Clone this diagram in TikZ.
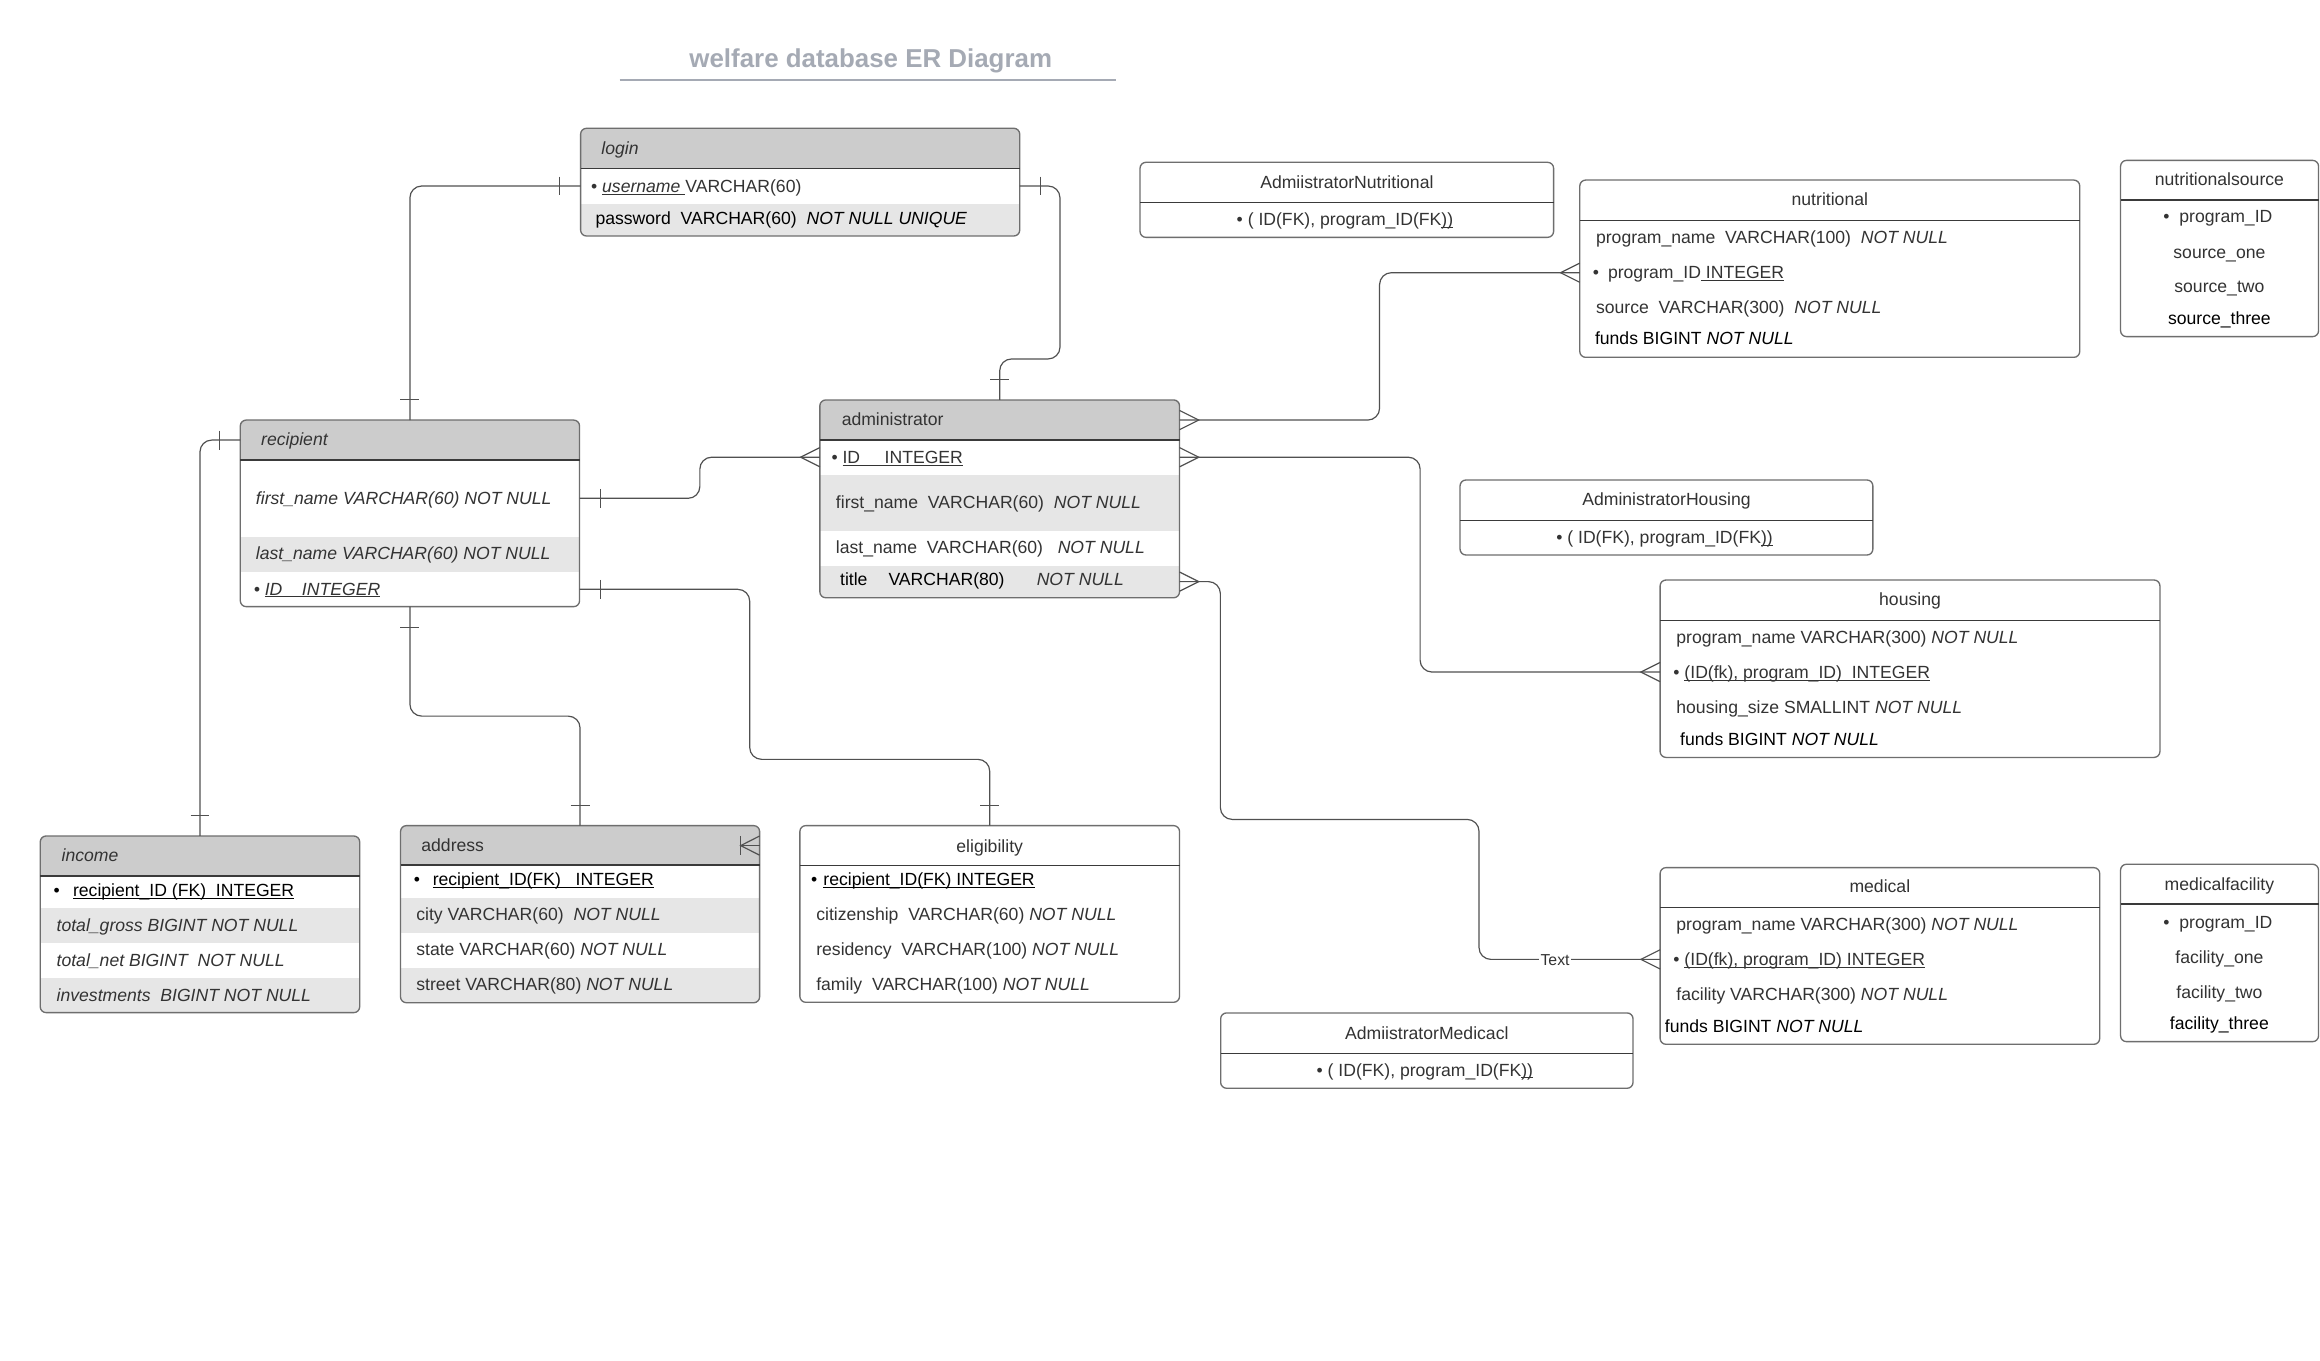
\documentclass[tikz,border=0pt]{standalone}
\usepackage{fontspec}
\setmainfont{Liberation Sans}
\newsavebox\ulbox
\newcommand\ul[1]{\sbox\ulbox{#1}\rlap{\rule[-1.6pt]{\wd\ulbox}{0.7pt}}\usebox\ulbox}
\definecolor{hdr}{HTML}{CCCCCC}
\definecolor{band}{HTML}{E6E6E6}
\definecolor{bord}{HTML}{6E6E6E}
\definecolor{divc}{HTML}{3A3A3A}
\definecolor{txtc}{HTML}{333333}
\definecolor{connc}{HTML}{505050}
\definecolor{ttlc}{HTML}{A5AAB4}
\newcommand\fs{\fontsize{11.9}{14}\selectfont}
\newcommand\erbox[5]{\node[frame, minimum width={#4-#2}, minimum height={#5-#3}] (#1) at ({(#2+#4)/2},{(#3+#5)/2}) {};}
\newcommand\erfill[2]{\begin{scope}\clip[rounded corners=4pt] (#1.north west) rectangle (#1.south east); #2 \end{scope}}
\newcommand\erline[1]{\draw[border] (#1.north west) rectangle (#1.south east);}
\newcommand\vtick[2]{\draw[ticks] (#1,#2-6.4) -- (#1,#2+6.4);}
\newcommand\htick[2]{\draw[ticks] (#1-6.4,#2) -- (#1+6.4,#2);}
\newcommand\crowL[2]{\draw[ticks] (#1,#2-6.5) -- (#1-13,#2) -- (#1,#2+6.5);}
\newcommand\crowR[2]{\draw[ticks] (#1,#2-6.5) -- (#1+13,#2) -- (#1,#2+6.5);}
\tikzset{
  frame/.style={rectangle, draw=none, inner sep=0pt, outer sep=0pt},
  border/.style={draw=bord, line width=0.9pt, rounded corners=4pt},
  divider/.style={draw=divc, line width=0.8pt},
  conn/.style={draw=connc, line width=0.8pt, rounded corners=8pt},
  ticks/.style={draw=connc, line width=0.8pt},
  txt/.style={anchor=west, inner sep=0pt, outer sep=0pt, text height=8.6pt, text depth=0pt, font=\fs, text=txtc},
  ctxt/.style={txt, anchor=center},
  blk/.style={text=black},
  lbl/.style={fill=white, inner sep=1pt, font=\fontsize{10.7}{12}\selectfont, text=txtc, text height=7.7pt, text depth=0pt},
}
\begin{document}
\begin{tikzpicture}[x=1pt,y=-1pt]
\useasboundingbox (0,0) rectangle (1568,919.2);
\fill[white] (0,0) rectangle (1568,919.2);

% title
\node[ctxt, font=\bfseries\fontsize{17.5}{20}\selectfont, text=ttlc, text height=12.6pt] (title) at (588.5,39) {welfare database ER Diagram};
\coordinate (ttlA) at (418.8,54); \coordinate (ttlB) at (754.5,54);
\draw[ttlc, line width=1.2pt] (ttlA) -- (ttlB);

% login
\erbox{login}{392.4}{86.7}{689.2}{159.5}
\erfill{login}{\fill[hdr] (392.4,86.7) rectangle (689.2,113.8); \fill[band] (392.4,137.9) rectangle (689.2,159.5);}
\erline{login}
\draw[divider] (392.4,113.8) -- (689.2,113.8);
\node[txt] (lg1) at (406.5,99.8) {\itshape login};
\node[txt] (lg2) at (399.5,125.7) {• \ul{\itshape username\ }VARCHAR(60)};
\node[txt,blk] (lg3) at (402.5,147.6) {password~ VARCHAR(60)~ \itshape NOT NULL UNIQUE};

% recipient
\erbox{rcp}{162.4}{283.9}{391.7}{410}
\erfill{rcp}{\fill[hdr] (162.4,283.9) rectangle (391.7,310.9); \fill[band] (162.4,362.7) rectangle (391.7,386.4);}
\erline{rcp}
\draw[divider] (162.4,310.9) -- (391.7,310.9);
\node[txt] (rc1) at (176.5,296.8) {\itshape recipient};
\node[txt] (rc2) at (173,336.4) {\itshape first\_name VARCHAR(60) NOT NULL};
\node[txt] (rc3) at (173,373.8) {\itshape last\_name VARCHAR(60) NOT NULL};
\node[txt] (rc4) at (171.5,397.9) {\itshape • \ul{ID~~~ INTEGER}};

% administrator
\erbox{adm}{554.1}{270.3}{797.2}{404}
\erfill{adm}{\fill[hdr] (554.1,270.3) rectangle (797.2,297.4); \fill[band] (554.1,321) rectangle (797.2,358.7); \fill[band] (554.1,382.5) rectangle (797.2,404);}
\erline{adm}
\draw[divider] (554.1,297.4) -- (797.2,297.4);
\node[txt] (ad1) at (568.9,283.4) {administrator};
\node[txt] (ad2) at (562,309) {• \ul{ID~~~~ INTEGER}};
\node[txt] (ad3) at (565,339.5) {first\_name~ VARCHAR(60)~ \itshape NOT NULL};
\node[txt] (ad4) at (565,369.9) {last\_name~ VARCHAR(60)~~ \itshape NOT NULL};
\node[txt,blk] (ad5) at (567.8,391.5) {title};
\node[txt,blk] (ad6) at (600.5,391.5) {VARCHAR(80)};
\node[txt] (ad7) at (700.7,391.5) {\itshape NOT NULL};

% AdmiistratorNutritional
\erbox{an}{770.5}{109.7}{1050}{160.4}
\erline{an}
\draw[divider] (770.5,136.8) -- (1050,136.8);
\node[ctxt] (an1) at (910.3,122.8) {AdmiistratorNutritional};
\node[ctxt] (an2) at (909,148.2) {• ( ID(FK), program\_ID(FK\ul{))}};

% nutritional
\erbox{nut}{1067.7}{121.7}{1405.6}{241.5}
\erline{nut}
\draw[divider] (1067.7,149.1) -- (1405.6,149.1);
\node[ctxt] (nu1) at (1236.7,134.7) {nutritional};
\node[txt] (nu2) at (1078.7,160) {program\_name~ VARCHAR(100)~ \itshape NOT NULL};
\node[txt] (nu3) at (1076.6,184) {•};
\node[txt] (nu4) at (1086.8,184) {program\_ID\ul{\ INTEGER}};
\node[txt] (nu5) at (1078.7,207.3) {source~ VARCHAR(300)~ \itshape NOT NULL};
\node[txt,blk] (nu6) at (1078,228.7) {funds BIGINT \itshape NOT NULL};

% nutritionalsource
\erbox{ns}{1433.2}{108.4}{1567}{227.5}
\erline{ns}
\draw[divider] (1433.2,135.2) -- (1567,135.2);
\node[ctxt] (ns1) at (1500,121.2) {nutritionalsource};
\node[ctxt] (ns2) at (1499,146.4) {•~ program\_ID};
\node[ctxt] (ns3) at (1500,170.1) {source\_one};
\node[ctxt] (ns4) at (1500,193.7) {source\_two};
\node[ctxt,blk] (ns5) at (1500,215.2) {source\_three};

% AdministratorHousing
\erbox{ah}{986.8}{324.4}{1265.8}{375.1}
\erline{ah}
\draw[divider] (986.8,351.9) -- (1265.8,351.9);
\node[ctxt] (ah1) at (1126.3,337.5) {AdministratorHousing};
\node[ctxt] (ah2) at (1125,363.2) {• ( ID(FK), program\_ID(FK\ul{))}};

% housing
\erbox{hou}{1122}{392}{1459.8}{511.9}
\erline{hou}
\draw[divider] (1122,419.5) -- (1459.8,419.5);
\node[ctxt] (ho1) at (1290.9,405) {housing};
\node[txt] (ho2) at (1133,430.8) {program\_name VARCHAR(300) \itshape NOT NULL};
\node[txt] (ho3) at (1131,454.2) {• \ul{(ID(fk), program\_ID)~ INTEGER}};
\node[txt] (ho4) at (1133,477.6) {housing\_size SMALLINT \itshape NOT NULL};
\node[txt,blk] (ho5) at (1135.6,499.5) {funds BIGINT \itshape NOT NULL};

% medical
\erbox{med}{1122}{586.4}{1419.1}{705.8}
\erline{med}
\draw[divider] (1122,613.2) -- (1419.1,613.2);
\node[ctxt] (me1) at (1270.5,599.2) {medical};
\node[txt] (me2) at (1133,624.7) {program\_name VARCHAR(300) \itshape NOT NULL};
\node[txt] (me3) at (1131,648.4) {• \ul{(ID(fk), program\_ID) INTEGER}};
\node[txt] (me4) at (1133,671.8) {facility VARCHAR(300) \itshape NOT NULL};
\node[txt,blk] (me5) at (1125.2,693.2) {funds BIGINT \itshape NOT NULL};

% medicalfacility
\erbox{mf}{1433.2}{584.1}{1567}{704}
\erline{mf}
\draw[divider] (1433.2,611) -- (1567,611);
\node[ctxt] (mf1) at (1500,597.5) {medicalfacility};
\node[ctxt] (mf2) at (1499,623.4) {•~ program\_ID};
\node[ctxt] (mf3) at (1500,646.6) {facility\_one};
\node[ctxt] (mf4) at (1500,670.2) {facility\_two};
\node[ctxt,blk] (mf5) at (1500,691.6) {facility\_three};

% AdmiistratorMedicacl
\erbox{am}{825}{684.6}{1103.7}{735.5}
\erline{am}
\draw[divider] (825,711.9) -- (1103.7,711.9);
\node[ctxt] (am1) at (964.3,698) {AdmiistratorMedicacl};
\node[ctxt] (am2) at (963,723) {• ( ID(FK), program\_ID(FK\ul{))}};

% income
\erbox{inc}{27.2}{565}{243.1}{684.4}
\erfill{inc}{\fill[hdr] (27.2,565) rectangle (243.1,592); \fill[band] (27.2,613.9) rectangle (243.1,637.1); \fill[band] (27.2,661.2) rectangle (243.1,684.4);}
\erline{inc}
\draw[divider] (27.2,592) -- (243.1,592);
\node[txt] (in1) at (41.7,578) {\itshape income};
\node[txt,blk] (in2) at (36.3,601.5) {•};
\node[txt,blk] (in3) at (49.4,601.5) {\ul{recipient\_ID (FK)~ INTEGER}};
\node[txt] (in4) at (38.3,625.2) {\itshape total\_gross BIGINT NOT NULL};
\node[txt] (in5) at (38.3,648.8) {\itshape total\_net BIGINT~ NOT NULL};
\node[txt] (in6) at (38.3,672.5) {\itshape investments~ BIGINT NOT NULL};

% address
\erbox{adr}{270.7}{558}{513.4}{677.7}
\erfill{adr}{\fill[hdr] (270.7,558) rectangle (513.4,584.6); \fill[band] (270.7,606.7) rectangle (513.4,630.4); \fill[band] (270.7,654) rectangle (513.4,677.7);}
\erline{adr}
\draw[divider] (270.7,584.6) -- (513.4,584.6);
\node[txt] (ar1) at (284.8,571.1) {address};
\node[txt,blk] (ar2) at (279.8,594.1) {•};
\node[txt,blk] (ar3) at (292.5,594.1) {\ul{recipient\_ID(FK)~~ INTEGER}};
\node[txt] (ar4) at (281.4,618) {city VARCHAR(60)~ \itshape NOT NULL};
\node[txt] (ar5) at (281.4,641.6) {state VARCHAR(60) \itshape NOT NULL};
\node[txt] (ar6) at (281.4,665.3) {street VARCHAR(80) \itshape NOT NULL};
\draw[ticks] (500.6,565) -- (500.6,578);
\draw[ticks] (513.4,565) -- (500.6,571.5) -- (513.4,578);
\draw[ticks] (500.6,571.5) -- (513.4,571.5);

% eligibility
\erbox{elg}{540.6}{558}{797.2}{677.4}
\erline{elg}
\draw[divider] (540.6,585) -- (797.2,585);
\node[ctxt] (el1) at (668.9,571.6) {eligibility};
\node[txt,blk] (el2) at (548.2,594.1) {•};
\node[txt,blk] (el3) at (556.5,594.1) {\ul{recipient\_ID(FK) INTEGER}};
\node[txt] (el4) at (551.7,618) {citizenship~ VARCHAR(60) \itshape NOT NULL};
\node[txt] (el5) at (551.7,641.6) {residency~ VARCHAR(100) \itshape NOT NULL};
\node[txt] (el6) at (551.7,665.3) {family~ VARCHAR(100) \itshape NOT NULL};

% connector end points
\coordinate (lgL) at (392.4,125.7);
\coordinate (lgR) at (689.2,125.7);
\coordinate (rcpH) at (162.4,297.4);
\coordinate (rcpF) at (391.7,336.8);
\coordinate (rcpI) at (391.7,398.3);
\coordinate (admI) at (554.1,309);
\coordinate (admH) at (797.2,283.9);
\coordinate (admIR) at (797.2,309);
\coordinate (admT) at (797.2,393.1);
\coordinate (nutP) at (1067.7,184.3);
\coordinate (houP) at (1122,454.2);
\coordinate (medP) at (1122,648.4);

% login - recipient
\draw[conn] (lgL) -| (rcp.north);
\vtick{378.3}{125.7} \htick{277.05}{269.8}
% login - administrator
\draw[conn] (lgR) -- (716.4,125.7) -- (716.4,242.6) -- (675.65,242.6) -- (adm.north);
\vtick{703}{125.7} \htick{675.65}{256.4}
% recipient - income
\draw[conn] (rcpH) -| (inc.north);
\vtick{148.3}{297.4} \htick{135.15}{551}
% recipient - administrator
\draw[conn] (rcpF) -- (473,336.8) -- (473,309) -- (admI);
\vtick{405.9}{336.8} \crowL{554.1}{309}
% recipient - eligibility
\draw[conn] (rcpI) -- (506.7,398.3) -- (506.7,513.2) -- (668.9,513.2) -- (elg.north);
\vtick{405.9}{398.3} \htick{668.9}{544.3}
% recipient - address
\draw[conn] (rcp.south) -- (277.05,484) -- (392.05,484) -- (adr.north);
\htick{277.05}{424} \htick{392.05}{544.3}
% administrator - nutritional
\draw[conn] (admH) -- (932.4,283.9) -- (932.4,184.3) -- (nutP);
\crowR{797.2}{283.9} \crowL{1067.7}{184.3}
% administrator - housing
\draw[conn] (admIR) -- (959.8,309) -- (959.8,454.2) -- (houP);
\crowR{797.2}{309} \crowL{1122}{454.2}
% administrator - medical
\draw[conn] (admT) -- (824.8,393.1) -- (824.8,553.8) -- (999.6,553.8) -- (999.6,648.4) -- (medP);
\crowR{797.2}{393.1} \crowL{1122}{648.4}
\node[lbl] (txtlbl) at (1051,648.4) {Text};
\end{tikzpicture}
\end{document}
